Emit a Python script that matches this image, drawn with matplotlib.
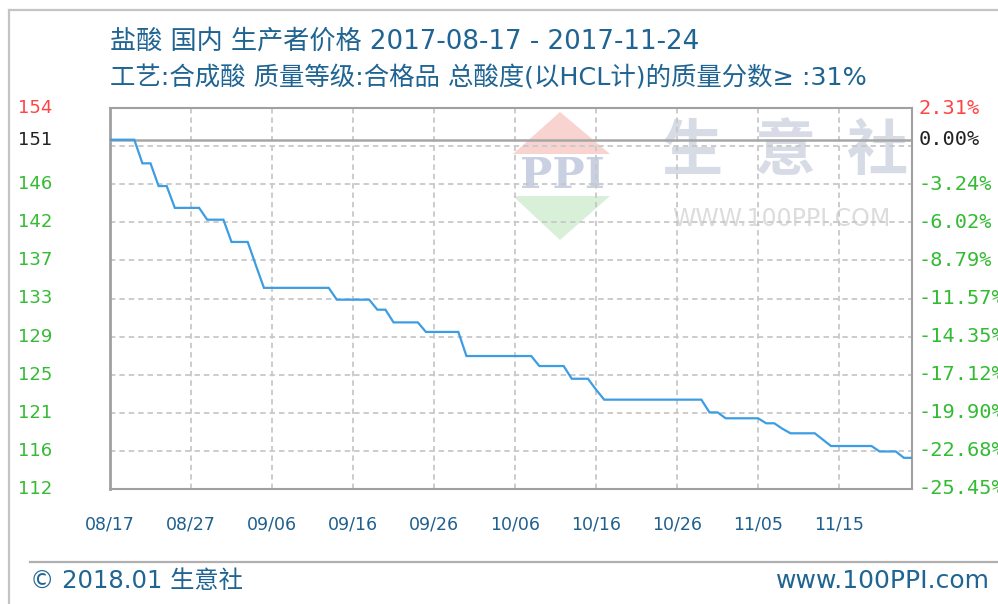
import numpy as np
import matplotlib
matplotlib.use("Agg")
import matplotlib.pyplot as plt
from matplotlib import transforms
from matplotlib.patches import Polygon
from matplotlib.lines import Line2D

plt.rcParams['font.family'] = ['Noto Sans CJK SC', 'DejaVu Sans']

# ---------------- data ----------------
title1 = "盐酸 国内 生产者价格 2017-08-17 - 2017-11-24"
title2 = "工艺:合成酸 质量等级:合格品 总酸度(以HCL计)的质量分数≥ :31%"
base_price = 151
prices = [151, 151, 151, 151,
          148.4, 148.4,
          145.9, 145.9,
          143.5, 143.5, 143.5, 143.5,
          142.2, 142.2, 142.2,
          139.75, 139.75, 139.75,
          137.2,
          134.7, 134.7, 134.7, 134.7, 134.7, 134.7, 134.7, 134.7, 134.7,
          133.4, 133.4, 133.4, 133.4, 133.4,
          132.3, 132.3,
          130.9, 130.9, 130.9, 130.9,
          129.85, 129.85, 129.85, 129.85, 129.85,
          127.2, 127.2, 127.2, 127.2, 127.2, 127.2, 127.2, 127.2, 127.2,
          126.1, 126.1, 126.1, 126.1,
          124.7, 124.7, 124.7,
          123.5,
          122.4, 122.4, 122.4, 122.4, 122.4, 122.4, 122.4, 122.4, 122.4, 122.4, 122.4, 122.4, 122.4,
          121.0, 121.0,
          120.35, 120.35, 120.35, 120.35, 120.35,
          119.8, 119.8,
          119.2,
          118.7, 118.7, 118.7, 118.7,
          118.0,
          117.3, 117.3, 117.3, 117.3, 117.3, 117.3,
          116.7, 116.7, 116.7,
          116.0, 116.0]
x_tick_days = [0, 10, 20, 30, 40, 50, 60, 70, 80, 90]
x_tick_labels = ["08/17", "08/27", "09/06", "09/16", "09/26", "10/06",
                 "10/16", "10/26", "11/05", "11/15"]
left_labels = ["154", "151", "146", "142", "137", "133", "129", "125", "121", "116", "112"]
right_pcts = [2.31, 0.00, -3.24, -6.02, -8.79, -11.57, -14.35, -17.12, -19.90, -22.68, -25.45]
right_labels = ["2.31%", "0.00%", "-3.24%", "-6.02%", "-8.79%", "-11.57%", "-14.35%",
                "-17.12%", "-19.90%", "-22.68%", "-25.45%"]
footer_left = "© 2018.01 生意社"
footer_right = "www.100PPI.com"

# ---------------- figure ----------------
W, H = 998, 604
fig = plt.figure(figsize=(W / 100, H / 100), dpi=100)
fig.patch.set_facecolor('white')

def fx(x):
    return x / W

def fy(y):
    return 1 - y / H

ax_l, ax_r, ax_t, ax_b = 110, 912, 108, 489
ax = fig.add_axes([fx(ax_l), fy(ax_b), (ax_r - ax_l) / W, (ax_b - ax_t) / H])
ax.set_facecolor('none')

ymax = base_price * (1 + right_pcts[0] / 100)
ymin = base_price * (1 + right_pcts[-1] / 100)
n_days = len(prices)
days = np.arange(n_days)
ax.set_xlim(0, n_days - 1)
ax.set_ylim(ymin, ymax)

# grid
step = (ymax - ymin) / 10
for k in range(1, 10):
    ax.axhline(ymin + k * step, color='#c8c8c8', lw=1.3, ls=(0, (3, 2.2)), zorder=1)
for d in x_tick_days[1:]:
    ax.axvline(d, color='#c8c8c8', lw=1.3, ls=(0, (3, 2.2)), zorder=1)
ax.axhline(base_price, color='#a6a6a6', lw=1.8, zorder=2)

ax.plot(days, prices, color='#3d9de3', lw=1.6, zorder=3, solid_joinstyle='miter')

for s in ax.spines.values():
    s.set_color('#a0a0a0')
    s.set_linewidth(1.5)
ax.spines['left'].set_linewidth(2)

ax.set_yticks([])
ax.set_xticks(x_tick_days)
ax.set_xticklabels(x_tick_labels, color='#1e5f8e', fontsize=12.5, family='DejaVu Sans')
ax.tick_params(axis='x', length=0, pad=19)

# y labels
blend = transforms.blended_transform_factory(fig.transFigure, ax.transData)
for i, (ll, pct, rl) in enumerate(zip(left_labels, right_pcts, right_labels)):
    yv = base_price * (1 + pct / 100)
    if i == 0:
        c = '#ff4444'
    elif i == 1:
        c = '#222222'
    else:
        c = '#33bb33'
    fig.text(fx(18), 0, ll, transform=blend, color=c, fontsize=13,
             family='DejaVu Sans', ha='left', va='center').set_y(yv)
    fig.text(fx(919), 0, rl, transform=blend, color=c, fontsize=14.6,
             family='DejaVu Sans Mono', ha='left', va='center').set_y(yv)

# watermark
wm_z = -5
fig.patches.append(Polygon([[fx(513), fy(154)], [fx(560), fy(112)], [fx(610), fy(154)]],
                           closed=True, transform=fig.transFigure, facecolor='#f8d3cf',
                           edgecolor='none', zorder=wm_z))
fig.patches.append(Polygon([[fx(513), fy(196)], [fx(560), fy(240)], [fx(610), fy(196)]],
                           closed=True, transform=fig.transFigure, facecolor='#d8efd8',
                           edgecolor='none', zorder=wm_z))
fig.text(fx(562), fy(176), "PPI", color='#c9d0e2', fontsize=31, fontweight='bold',
         family='DejaVu Serif', ha='center', va='center', zorder=wm_z)
for ch, cx in zip("生意社", [692, 785, 877]):
    fig.text(fx(cx), fy(152), ch, color='#d6dbe6', fontsize=44, fontweight='bold',
             ha='center', va='center', zorder=wm_z)
fig.text(fx(781), fy(219), "WWW.100PPI.COM", color='#dcdcdc', fontsize=17,
         family='DejaVu Sans', ha='center', va='center', zorder=wm_z)

# titles
tc = '#1f6492'
mixed = ['DejaVu Sans', 'Noto Sans CJK SC']
fig.text(fx(110), fy(42), title1, color=tc, fontsize=18.8, ha='left', va='center',
         family=mixed)
fig.text(fx(110), fy(78), title2, color=tc, fontsize=18.3, ha='left', va='center',
         family=mixed)

# frame lines
fig.add_artist(Line2D([fx(9), fx(9)], [fy(10), fy(604)], color='#c4c4c4', lw=1.6))
fig.add_artist(Line2D([fx(9), fx(998)], [fy(10), fy(10)], color='#c4c4c4', lw=1.6))
fig.add_artist(Line2D([fx(30), fx(998)], [fy(562), fy(562)], color='#b0b0b0', lw=1.6))

# footer
fig.text(fx(30), fy(581), footer_left, color=tc, fontsize=17.5, ha='left', va='center',
         family=mixed)
fig.text(fx(990), fy(581), footer_right, color=tc, fontsize=18, ha='right', va='center',
         family='DejaVu Sans')

fig.savefig("out.png", dpi=100)
